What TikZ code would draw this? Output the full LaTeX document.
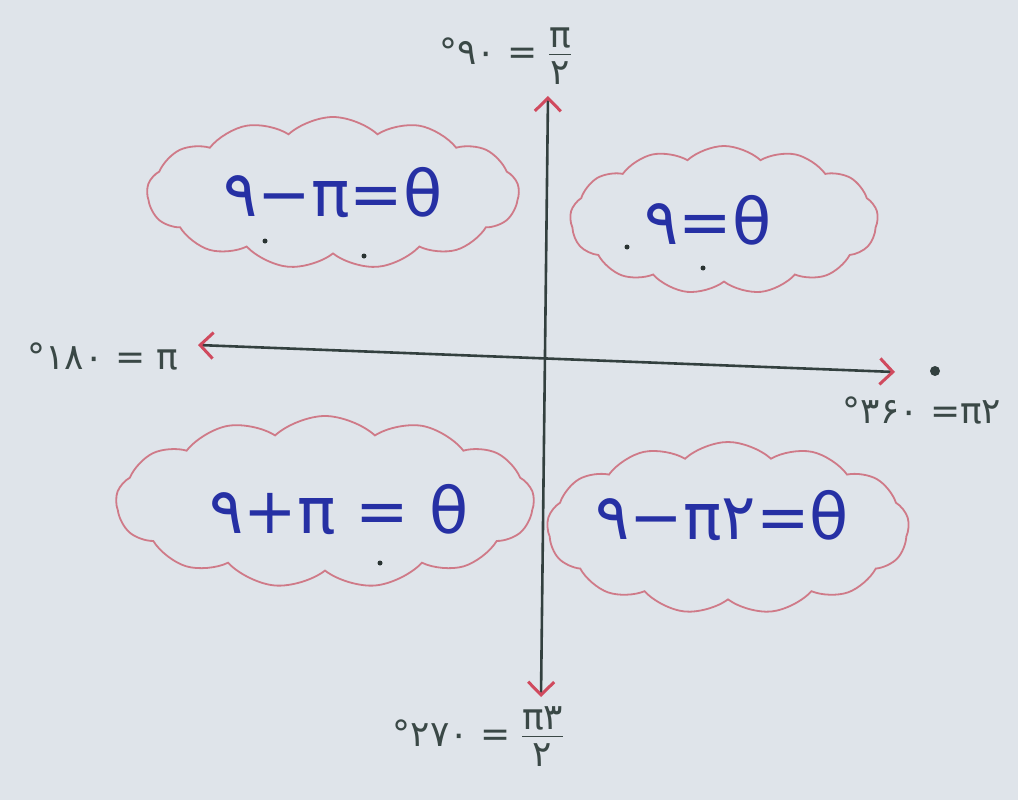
\documentclass[tikz,border=0pt]{standalone}
\usepackage{fontspec}
\newfontfamily\persfont{DejaVu Sans}
\usetikzlibrary{shapes.symbols,arrows.meta}
\definecolor{bg}{HTML}{DFE4EA}
\definecolor{axiscol}{HTML}{33403F}
\definecolor{tipcol}{HTML}{D04A5E}
\definecolor{cloudcol}{HTML}{CF7A88}
\definecolor{eqcol}{HTML}{2630A4}
\definecolor{lblcol}{HTML}{3A4846}
\tikzset{
  axisline/.style={draw=axiscol, line width=2.6pt,
    {Straight Barb[color=tipcol,length=13pt,width=26pt,line width=3pt]}-{Straight Barb[color=tipcol,length=13pt,width=26pt,line width=3pt]}},
  puff/.style={cloud, cloud puffs=13, cloud puff arc=85, cloud ignores aspect,
    draw=cloudcol, line width=1.8pt, inner sep=0pt},
  eq/.style={font=\persfont\fontsize{64}{68}\selectfont, text=eqcol, inner sep=0pt},
  lbl/.style={font=\persfont\fontsize{36}{40}\selectfont, text=lblcol, inner sep=0pt},
  speck/.style={fill=axiscol!80!black},
}
\begin{document}
\begin{tikzpicture}[x=1pt,y=-1pt]
\fill[bg] (0,0) rectangle (1018,800);
\useasboundingbox (0,0) rectangle (1018,800);

% axes
\coordinate (top) at (548,96);
\coordinate (bot) at (541,697);
\coordinate (left) at (198,345);
\coordinate (right) at (895,372);
\draw[axisline] (bot) -- (top);
\draw[axisline] (left) -- (right);
\fill[axiscol] (935,371) circle (5pt);

% clouds
\node[puff, minimum width=372pt, minimum height=152pt] (c1) at (333,193) {};
\node[puff, minimum width=308pt, minimum height=148pt] (c2) at (724,220) {};
\node[puff, minimum width=418pt, minimum height=172pt] (c3) at (325,502) {};
\node[puff, minimum width=362pt, minimum height=172pt] (c4) at (728,528) {};

\node[eq] (t1) at (c1) {۹−π=θ};
\node[eq] (t2) at ([xshift=-16pt]c2) {۹=θ};
\node[eq] (t3) at ([xshift=14pt,yshift=-8pt]c3) {۹+π = θ};
\node[eq] (t4) at ([xshift=-6pt,yshift=12pt]c4) {۹−π۲=θ};

% small specks on clouds
\fill[speck] (265,241) circle (2.5pt);
\fill[speck] (364,256) circle (2.5pt);
\fill[speck] (627,247) circle (2.5pt);
\fill[speck] (703,268) circle (2.5pt);
\fill[speck] (380,563) circle (2.5pt);

% axis labels
\node[lbl] (ltop) at (505,58) {°۹۰ = \begin{tabular}{@{}c@{}}π\\[-6pt]\hline\rule{0pt}{30pt}۲\end{tabular}};
\node[lbl] (lleft) at (103,356) {°۱۸۰ = π};
\node[lbl] (lright) at (922,410) {°۳۶۰ =π۲};
\node[lbl] (lbot) at (478,740) {°۲۷۰ = \begin{tabular}{@{}c@{}}π۳\\[-6pt]\hline\rule{0pt}{30pt}۲\end{tabular}};
\end{tikzpicture}
\end{document}
